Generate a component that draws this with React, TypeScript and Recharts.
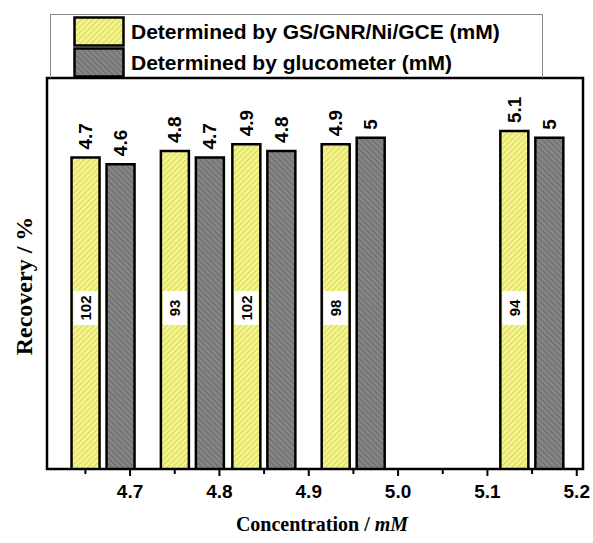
import { BarChart, Bar, XAxis, YAxis, ReferenceArea, LabelList } from "recharts";

// bar pair positions on the concentration axis
const concentrations = [4.67, 4.77, 4.85, 4.95, 5.15];
// GS/GNR/Ni/GCE results
const sensorValues = [4.7, 4.8, 4.9, 4.9, 5.1];
// glucometer results
const meterValues = [4.6, 4.7, 4.8, 5, 5];
const recovery = [102, 93, 102, 98, 94];

const majorTicks = [4.7, 4.8, 4.9, 5.0, 5.1, 5.2];
const minorTicks = [4.65, 4.75, 4.85, 4.95, 5.05, 5.15];

const xDomain = [4.607, 5.207];
const yDomain = [0, 5.9];

const data = concentrations.map((c, i) => ({
  c,
  sensor: sensorValues[i],
  meter: meterValues[i],
  recovery: recovery[i],
}));

const allTicks = [...majorTicks, ...minorTicks].sort((a, b) => a - b);

const Patterns = ({ prefix }: { prefix: string }) => (
  <defs>
    <pattern
      id={`${prefix}-yellow`}
      patternUnits="userSpaceOnUse"
      width={4}
      height={4}
      patternTransform="rotate(45)"
    >
      <rect width={4} height={4} fill="#f4f488" />
      <line x1={0} y1={0} x2={0} y2={4} stroke="#c9c95a" strokeWidth={1.4} />
    </pattern>
    <pattern
      id={`${prefix}-gray`}
      patternUnits="userSpaceOnUse"
      width={4}
      height={4}
      patternTransform="rotate(-45)"
    >
      <rect width={4} height={4} fill="#858585" />
      <line x1={0} y1={0} x2={0} y2={4} stroke="#5e5e5e" strokeWidth={1.4} />
    </pattern>
  </defs>
);

const Tick = (props: any) => {
  const { x, y, payload } = props;
  const v = payload.value;
  const major = majorTicks.some((t) => Math.abs(t - v) < 1e-6);
  return (
    <g>
      <line x1={x} x2={x} y1={y} y2={y + (major ? 7 : 5)} stroke="#000" strokeWidth={2} />
      {major && (
        <text
          x={x}
          y={y + 29}
          textAnchor="middle"
          fontFamily="Arial, 'Liberation Sans', sans-serif"
          fontWeight="bold"
          fontSize={19}
          fill="#000"
        >
          {v.toFixed(1)}
        </text>
      )}
    </g>
  );
};

const TopLabel = (props: any) => {
  const { x, y, width, value } = props;
  const cx = x + width / 2;
  const ty = y - 8;
  return (
    <text
      x={cx}
      y={ty}
      transform={`rotate(-90, ${cx}, ${ty})`}
      textAnchor="start"
      dominantBaseline="central"
      fontFamily="Arial, 'Liberation Sans', sans-serif"
      fontWeight="bold"
      fontSize={19}
      fill="#000"
    >
      {value}
    </text>
  );
};

const RecoveryLabel = (props: any) => {
  const { x, y, width, height, value } = props;
  const cx = x + width / 2;
  const cy = y + height - 161;
  return (
    <g>
      <rect x={cx - 12} y={cy - 17} width={24} height={34} fill="#fff" />
      <text
        x={cx}
        y={cy}
        transform={`rotate(-90, ${cx}, ${cy})`}
        textAnchor="middle"
        dominantBaseline="central"
        fontFamily="Arial, 'Liberation Sans', sans-serif"
        fontWeight="bold"
        fontSize={15}
        fill="#000"
      >
        {value}
      </text>
    </g>
  );
};

const Swatch = ({ fill, top }: { fill: string; top: number }) => (
  <svg
    width={52}
    height={31}
    style={{ position: "absolute", left: 73, top }}
  >
    <Patterns prefix="lg" />
    <rect x={1.5} y={1.5} width={49} height={28} fill={fill} stroke="#000" strokeWidth={2.5} />
  </svg>
);

const legendText = {
  position: "absolute" as const,
  left: 131,
  fontFamily: "Arial, 'Liberation Sans', sans-serif",
  fontWeight: "bold" as const,
  fontSize: 21,
  lineHeight: "31px",
  whiteSpace: "nowrap" as const,
};

export default function App() {
  return (
    <div
      style={{
        position: "absolute",
        left: 0,
        top: 0,
        width: 593,
        height: 543,
        background: "#fff",
      }}
    >
      <BarChart
        width={593}
        height={543}
        data={data}
        margin={{ top: 78, right: 10, left: 47, bottom: 44 }}
        barSize={28}
        barGap={7}
      >
        <Patterns prefix="ch" />
        <XAxis
          dataKey="c"
          type="number"
          domain={xDomain}
          allowDataOverflow
          ticks={allTicks}
          interval={0}
          tickSize={0}
          tickMargin={0}
          tickLine={false}
          axisLine={false}
          tick={<Tick />}
          height={30}
        />
        <YAxis type="number" domain={yDomain} allowDataOverflow hide />
        <Bar
          dataKey="sensor"
          fill="url(#ch-yellow)"
          stroke="#000"
          strokeWidth={2.5}
          isAnimationActive={false}
        >
          <LabelList dataKey="sensor" content={<TopLabel />} />
          <LabelList dataKey="recovery" content={<RecoveryLabel />} />
        </Bar>
        <Bar
          dataKey="meter"
          fill="url(#ch-gray)"
          stroke="#000"
          strokeWidth={2.5}
          isAnimationActive={false}
        >
          <LabelList dataKey="meter" content={<TopLabel />} />
        </Bar>
        <ReferenceArea
          x1={xDomain[0]}
          x2={xDomain[1]}
          y1={yDomain[0]}
          y2={yDomain[1]}
          fill="none"
          stroke="#000"
          strokeWidth={2.5}
          ifOverflow="visible"
        />
      </BarChart>

      <div
        style={{
          position: "absolute",
          left: 50,
          top: 14,
          width: 491,
          height: 63,
          border: "1px solid #888",
          borderBottom: "none",
        }}
      />
      <Swatch fill="url(#lg-yellow)" top={16} />
      <Swatch fill="url(#lg-gray)" top={47} />
      <div style={{ ...legendText, top: 16 }}>Determined by GS/GNR/Ni/GCE (mM)</div>
      <div style={{ ...legendText, top: 47 }}>Determined by glucometer (mM)</div>

      <div
        style={{
          position: "absolute",
          left: 24,
          top: 286,
          transform: "translate(-50%, -50%) rotate(-90deg)",
          fontFamily: "'Times New Roman', 'Liberation Serif', serif",
          fontWeight: "bold",
          fontSize: 24,
          whiteSpace: "nowrap",
        }}
      >
        Recovery / %
      </div>
      <div
        style={{
          position: "absolute",
          left: 322,
          top: 524,
          transform: "translate(-50%, -50%)",
          fontFamily: "'Times New Roman', 'Liberation Serif', serif",
          fontWeight: "bold",
          fontSize: 20,
          whiteSpace: "nowrap",
        }}
      >
        Concentration / <i>mM</i>
      </div>
    </div>
  );
}
